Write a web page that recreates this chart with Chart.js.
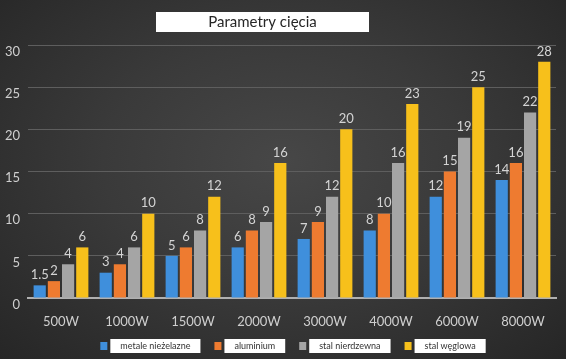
<!DOCTYPE html>
<html>
<head>
<meta charset="utf-8">
<script src="https://cdn.jsdelivr.net/npm/chart.js@4.4.0/dist/chart.umd.min.js"></script>
<style>
  html, body { margin: 0; padding: 0; }
  body {
    width: 566px; height: 359px; overflow: hidden;
    background: radial-gradient(ellipse at 50% 45%, #474747 0%, #3a3a3a 45%, #262626 100%);
  }
  #wrap { position: relative; width: 566px; height: 359px; }
</style>
</head>
<body>
<div id="wrap"><canvas id="chart" width="566" height="359"></canvas></div>
<script>
// ── Data ─────────────────────────────────────────────────────────
const TITLE = 'Parametry cięcia';
const categories = ['500W', '1000W', '1500W', '2000W', '3000W', '4000W', '6000W', '8000W'];
const seriesNames = ['metale nieżelazne', 'aluminium', 'stal nierdzewna', 'stal węglowa'];
const metaleNiezelazne = [1.5, 3, 5, 6, 7, 8, 12, 14];
const aluminium = [2, 4, 6, 8, 9, 10, 15, 16];
const stalNierdzewna = [4, 6, 8, 9, 12, 16, 19, 22];
const stalWeglowa = [6, 10, 12, 16, 20, 23, 25, 28];
const yTicks = [0, 5, 10, 15, 20, 25, 30];

const colors = ['#3f8fdc', '#ee7b30', '#a5a5a5', '#f7c01b'];
const FONT = 'Lato, "Open Sans", sans-serif';

// ── Plugins: title box, value labels, legend ─────────────────────
const titleBox = {
  id: 'titleBox',
  afterDraw(chart) {
    const ctx = chart.ctx;
    ctx.save();
    ctx.fillStyle = '#ffffff';
    ctx.fillRect(156, 12, 213, 20);
    ctx.fillStyle = '#262626';
    ctx.font = '15px ' + FONT;
    ctx.textAlign = 'center';
    ctx.textBaseline = 'middle';
    ctx.fillText(TITLE, 262.5, 22.5);
    ctx.restore();
  }
};

const valueLabels = {
  id: 'valueLabels',
  afterDatasetsDraw(chart) {
    const ctx = chart.ctx;
    ctx.save();
    ctx.fillStyle = '#d4d4d4';
    ctx.font = '13px ' + FONT;
    ctx.textAlign = 'center';
    ctx.textBaseline = 'bottom';
    chart.data.datasets.forEach((ds, i) => {
      chart.getDatasetMeta(i).data.forEach((bar, j) => {
        ctx.fillText(String(ds.data[j]), bar.x, bar.y - 4);
      });
    });
    ctx.restore();
  }
};

const boxLegend = {
  id: 'boxLegend',
  afterDraw(chart) {
    const ctx = chart.ctx;
    ctx.save();
    ctx.font = '9px ' + FONT;
    const pad = 10, sq = 7, gapSq = 3, gapItem = 14;
    const widths = seriesNames.map(n => ctx.measureText(n).width + pad * 2);
    const total = widths.reduce((a, w) => a + w + sq + gapSq, 0) + gapItem * (widths.length - 1);
    let x = 293 - total / 2;
    const yMid = 346;
    seriesNames.forEach((name, i) => {
      ctx.fillStyle = colors[i];
      ctx.fillRect(x, yMid - 4, sq, 8);
      x += sq + gapSq;
      ctx.fillStyle = '#ffffff';
      ctx.fillRect(x, yMid - 7, widths[i], 14);
      ctx.fillStyle = '#333333';
      ctx.textAlign = 'center';
      ctx.textBaseline = 'middle';
      ctx.fillText(name, x + widths[i] / 2, yMid + 0.5);
      x += widths[i] + gapItem;
    });
    ctx.restore();
  }
};

// ── Chart ────────────────────────────────────────────────────────
const seriesData = [metaleNiezelazne, aluminium, stalNierdzewna, stalWeglowa];

new Chart(document.getElementById('chart'), {
  type: 'bar',
  data: {
    labels: categories,
    datasets: seriesNames.map((name, i) => ({
      label: name,
      data: seriesData[i],
      backgroundColor: colors[i],
      borderWidth: 0,
      categoryPercentage: 0.86,
      barPercentage: 0.86,
    })),
  },
  options: {
    responsive: false,
    animation: false,
    layout: { padding: { top: 45, right: 10, bottom: 31, left: 0 } },
    plugins: {
      legend: { display: false },
      tooltip: { enabled: false },
      title: { display: false },
    },
    scales: {
      x: {
        grid: { display: false },
        border: { color: '#b0b0b0', width: 2 },
        ticks: { color: '#cfcfcf', font: { family: FONT, size: 13 }, padding: 8 },
        afterFit: s => { s.height = 30; },
      },
      y: {
        min: 0,
        max: 30,
        afterBuildTicks: s => { s.ticks = yTicks.map(v => ({ value: v })); },
        grid: { color: '#5e5e5e', lineWidth: 1, drawTicks: false },
        border: { display: false },
        ticks: { color: '#cfcfcf', font: { family: FONT, size: 13 }, padding: 8, align: 'start' },
        afterFit: s => { s.width = 28; },
      },
    },
  },
  plugins: [titleBox, valueLabels, boxLegend],
});
</script>
</body>
</html>
